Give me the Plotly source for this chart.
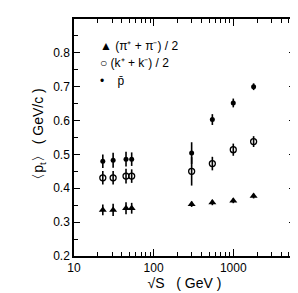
import plotly.graph_objects as go

# data
sqrt_s = [23, 31, 45, 53, 300, 546, 1000, 1800]
pion = [0.336, 0.336, 0.341, 0.341, 0.353, 0.358, 0.363, 0.377]
pion_err = [0.016, 0.018, 0.018, 0.016, 0.008, 0.008, 0.007, 0.007]
kaon = [0.431, 0.431, 0.436, 0.436, 0.450, 0.473, 0.514, 0.538]
kaon_err = [0.020, 0.020, 0.022, 0.020, 0.042, 0.020, 0.018, 0.016]
pbar = [0.480, 0.483, 0.486, 0.486, 0.504, 0.603, 0.652, 0.700]
pbar_err = [0.020, 0.022, 0.022, 0.020, 0.032, 0.016, 0.013, 0.010]

legend_labels = ["▲ (π⁺ + π⁻) / 2", "○ (k⁺ + k⁻) / 2", "•    p̄"]

x_major = [10, 100, 1000]
x_minor = [20, 30, 40, 50, 60, 70, 80, 90, 200, 300, 400, 500, 600, 700, 800, 900,
           2000, 3000, 4000, 5000]
y_major = [0.2, 0.3, 0.4, 0.5, 0.6, 0.7, 0.8]

FONT = "Liberation Sans, Arial, sans-serif"

def err(vals):
    return dict(type="data", array=vals, visible=True, color="black",
                thickness=1.6, width=0)

fig = go.Figure()
fig.add_trace(go.Scatter(x=sqrt_s, y=pion, mode="markers", name="(π⁺+π⁻)/2",
                         error_y=err(pion_err),
                         marker=dict(symbol="triangle-up", size=7, color="black")))
fig.add_trace(go.Scatter(x=sqrt_s, y=kaon, mode="markers", name="(k⁺+k⁻)/2",
                         error_y=err(kaon_err),
                         marker=dict(symbol="circle-open", size=6, color="black",
                                     line=dict(width=1.3, color="black"))))
fig.add_trace(go.Scatter(x=sqrt_s, y=pbar, mode="markers", name="p̄",
                         error_y=err(pbar_err),
                         marker=dict(symbol="circle", size=5, color="black")))

ys = [0.821, 0.771, 0.716]
for lab, yy in zip(legend_labels, ys):
    fig.add_annotation(x=0.11, y=yy, xref="paper", yref="y", text=lab,
                       showarrow=False, xanchor="left", yanchor="middle",
                       font=dict(family=FONT, size=12, color="black"))

fig.update_layout(
    width=298, height=293,
    margin=dict(l=66, r=11, t=9, b=45),
    paper_bgcolor="white", plot_bgcolor="white",
    showlegend=False,
    font=dict(family=FONT, size=12, color="black"),
)
fig.update_xaxes(
    type="log", range=[1.0, 3.775],
    tickvals=x_major, ticktext=["10", "100", "1000"],
    ticks="inside", ticklen=7, tickwidth=1.2, tickcolor="black",
    minor=dict(tickvals=x_minor, ticks="inside", ticklen=4, tickwidth=1, tickcolor="black"),
    showline=True, linecolor="black", linewidth=1.5, mirror="ticks",
    showgrid=False, zeroline=False,
    tickfont=dict(family=FONT, size=12),
    title=dict(text="√S   ( GeV )", font=dict(family=FONT, size=14), standoff=4),
)
fig.update_yaxes(
    range=[0.2, 0.9],
    tickvals=y_major, ticktext=[f"{v:.1f}" for v in y_major],
    ticks="inside", ticklen=6, tickwidth=1.2, tickcolor="black",
    minor=dict(dtick=0.05, ticks="inside", ticklen=4, tickwidth=1, tickcolor="black"),
    showline=True, linecolor="black", linewidth=1.5, mirror="ticks",
    showgrid=False, zeroline=False,
    tickfont=dict(family=FONT, size=12),
    title=dict(text="〈p<sub>t</sub>〉 ( GeV/c )", font=dict(family=FONT, size=14), standoff=6),
)

fig.write_html("out.html")
